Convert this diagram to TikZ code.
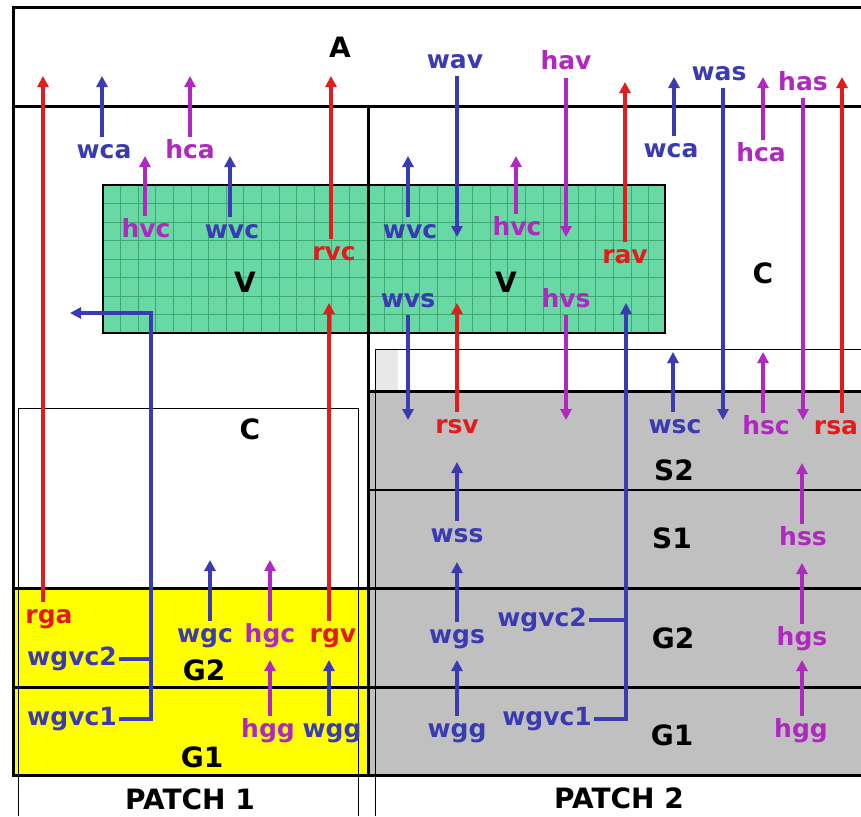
\documentclass[tikz,border=0pt]{standalone}
\usepackage{fontspec}
\setmainfont{DejaVu Sans}
\usetikzlibrary{arrows.meta}
\definecolor{cblue}{RGB}{58,58,178}
\definecolor{cpurp}{RGB}{176,40,192}
\definecolor{cred}{RGB}{226,28,28}
\definecolor{vgreen}{RGB}{104,216,164}
\definecolor{vgrid}{RGB}{62,168,112}
\definecolor{sgray}{RGB}{192,192,192}
\definecolor{pyellow}{RGB}{255,255,0}
\begin{document}
\begin{tikzpicture}[x=1pt,y=-1pt,
  lab/.style={font=\fontsize{25}{28}\selectfont\bfseries, inner sep=2pt, text height=19pt, text depth=6pt, anchor=base},
  big/.style={font=\fontsize{28}{32}\selectfont\bfseries, inner sep=0pt, anchor=base},
  lb/.style={lab,text=cblue}, lp/.style={lab,text=cpurp}, lr/.style={lab,text=cred},
  arr/.style={line width=4pt, -{Triangle[length=11pt,width=11pt]}},
  ab/.style={arr,draw=cblue}, ap/.style={arr,draw=cpurp}, ar/.style={arr,draw=cred},
  stub/.style={line width=4pt,draw=cblue},
  heavy/.style={line width=3pt},
  hair/.style={line width=0.9pt}]
\useasboundingbox (0,0) rectangle (861,816);
\clip (0,0) rectangle (861,816);
% fills
\fill[white] (0,0) rectangle (861,816);
\fill[pyellow] (13,588) rectangle (368,775);
\fill[sgray] (368,391) rectangle (861,775);
\fill[gray!18] (376,349) rectangle (398,391);
\fill[vgreen] (103,185) rectangle (665,333);
\foreach \k in {1,...,31} \draw[vgrid,line width=0.7pt] ({103+17.6*\k},185) -- ({103+17.6*\k},333);
\foreach \k in {1,...,7} \draw[vgrid,line width=0.7pt] (103,{185+18.5*\k}) -- (665,{185+18.5*\k});
\draw[line width=2pt] (103,185) rectangle (665,333);
% black lines
\draw[hair] (18,816) -- (18,408) -- (358,408) -- (358,816);
\draw[hair] (375,816) -- (375,349) -- (861,349);
\draw[heavy,line join=miter] (861,8) -- (13,8) -- (13,775) -- (861,775);
\draw[heavy] (13,106) -- (861,106);
\draw[heavy] (368,106) -- (368,775);
\draw[heavy] (368,391) -- (861,391);
\draw[line width=2.4pt] (368,490) -- (861,490);
\draw[heavy] (13,588) -- (861,588);
\draw[heavy] (13,687) -- (861,687);
% coordinates (arrow tips)
\coordinate (rgaT) at (43,76);
\coordinate (wcaT) at (102,76);
\coordinate (hcaT) at (190,76);
\coordinate (rvcT) at (331,76);
\coordinate (hvcT) at (145,156);
\coordinate (wvcT) at (230,156);
\coordinate (rgvT) at (329,303);
\coordinate (wgcT) at (210,560);
\coordinate (hgcT) at (270,560);
\coordinate (hggT) at (270,660);
\coordinate (wggT) at (329,660);
\coordinate (wgvcK) at (151,313);
\coordinate (wgvcT) at (70,313);
\coordinate (wavT) at (457,237);
\coordinate (havT) at (566,237);
\coordinate (ravT) at (625,82);
\coordinate (wcaTT) at (674,77);
\coordinate (wasT) at (723,420);
\coordinate (hcaTT) at (763,77);
\coordinate (hasT) at (803,420);
\coordinate (rsaT) at (842,77);
\coordinate (wvcTT) at (408,156);
\coordinate (hvcTT) at (516,156);
\coordinate (wvsT) at (408,420);
\coordinate (rsvT) at (457,303);
\coordinate (hvsT) at (566,420);
\coordinate (wgvcTT) at (626,303);
\coordinate (wscT) at (673,352);
\coordinate (hscT) at (763,352);
\coordinate (wssT) at (457,462);
\coordinate (wgsT) at (457,562);
\coordinate (wggTT) at (457,660);
\coordinate (hssT) at (802,463);
\coordinate (hgsT) at (802,563);
\coordinate (hggTT) at (802,660);
% big labels
\node[big] (A) at (340,57) {A};
\node[big] (V1) at (245,292) {V};
\node[big] (V2) at (506,292) {V};
\node[big] (C1) at (250,439) {C};
\node[big] (C2) at (763,283) {C};
\node[big] (G2a) at (204,680) {G2};
\node[big] (G1a) at (202,767) {G1};
\node[big] (S2) at (674,480) {S2};
\node[big] (S1) at (672,548) {S1};
\node[big] (G2b) at (673,648) {G2};
\node[big] (G1b) at (672,745) {G1};
\node[big] (P1) at (190,809) {PATCH 1};
\node[big] (P2) at (619,808) {PATCH 2};
% small labels, patch 1
\node[lr] (rgaL) at (49,623) {rga};
\node[lb] (wcaL) at (104,158) {wca};
\node[lp] (hcaL) at (190,158) {hca};
\node[lr] (rvcL) at (334,260) {rvc};
\node[lp] (hvcL) at (146,237) {hvc};
\node[lb] (wvcL) at (232,238) {wvc};
\node[lb] (wgvc2L) at (72,665) {wgvc2};
\node[lb] (wgvc1L) at (72,725) {wgvc1};
\node[lb] (wgcL) at (205,642) {wgc};
\node[lp] (hgcL) at (270,642) {hgc};
\node[lr] (rgvL) at (333,642) {rgv};
\node[lp] (hggL) at (268,737) {hgg};
\node[lb] (wggL) at (332,737) {wgg};
% small labels, patch 2
\node[lb] (wavL) at (455,68) {wav};
\node[lp] (havL) at (566,70) {hav};
\node[lr] (ravL) at (625,263) {rav};
\node[lb] (wcaLL) at (671,157) {wca};
\node[lb] (wasL) at (719,80) {was};
\node[lp] (hcaLL) at (761,161) {hca};
\node[lp] (hasL) at (803,90) {has};
\node[lb] (wvcLL) at (410,238) {wvc};
\node[lp] (hvcLL) at (517,235) {hvc};
\node[lb] (wvsL) at (408,307) {wvs};
\node[lp] (hvsL) at (566,307) {hvs};
\node[lr] (rsvL) at (457,433) {rsv};
\node[lb] (wscL) at (675,433) {wsc};
\node[lp] (hscL) at (766,434) {hsc};
\node[lr] (rsaL) at (836,434) {rsa};
\node[lb] (wssL) at (457,542) {wss};
\node[lp] (hssL) at (803,545) {hss};
\node[lb] (wgsL) at (457,643) {wgs};
\node[lb] (wgvc2R) at (542,626) {wgvc2};
\node[lp] (hgsL) at (802,645) {hgs};
\node[lb] (wggLL) at (457,737) {wgg};
\node[lb] (wgvc1R) at (547,725) {wgvc1};
\node[lp] (hggLL) at (801,737) {hgg};
% arrows, patch 1
\draw[ar] (rgaL.north -| rgaT) -- (rgaT);
\draw[ab] (wcaL.north -| wcaT) -- (wcaT);
\draw[ap] (hcaL.north -| hcaT) -- (hcaT);
\draw[ar] (rvcL.north -| rvcT) -- (rvcT);
\draw[ap] (hvcL.north -| hvcT) -- (hvcT);
\draw[ab] (wvcL.north -| wvcT) -- (wvcT);
\draw[ar] (rgvL.north -| rgvT) -- (rgvT);
\draw[ab] (wgcL.north -| wgcT) -- (wgcT);
\draw[ap] (hgcL.north -| hgcT) -- (hgcT);
\draw[ap] (hggL.north -| hggT) -- (hggT);
\draw[ab] (wggL.north -| wggT) -- (wggT);
\draw[stub] (wgvc2L.east) -- (wgvc2L.east -| wgvcK);
\draw[ab,line join=miter] (wgvc1L.east) -- (wgvc1L.east -| wgvcK) -- (wgvcK) -- (wgvcT);
% arrows, patch 2
\draw[ab] (wavL.south -| wavT) -- (wavT);
\draw[ap] (havL.south -| havT) -- (havT);
\draw[ar] (ravL.north -| ravT) -- (ravT);
\draw[ab] (wcaLL.north -| wcaTT) -- (wcaTT);
\draw[ab] (wasL.south -| wasT) -- (wasT);
\draw[ap] (hcaLL.north -| hcaTT) -- (hcaTT);
\draw[ap] (hasL.south -| hasT) -- (hasT);
\draw[ar] (rsaL.north -| rsaT) -- (rsaT);
\draw[ab] (wvcLL.north -| wvcTT) -- (wvcTT);
\draw[ap] (hvcLL.north -| hvcTT) -- (hvcTT);
\draw[ab] (wvsL.south -| wvsT) -- (wvsT);
\draw[ar] (rsvL.north -| rsvT) -- (rsvT);
\draw[ap] (hvsL.south -| hvsT) -- (hvsT);
\draw[ab] (wscL.north -| wscT) -- (wscT);
\draw[ap] (hscL.north -| hscT) -- (hscT);
\draw[ab] (wssL.north -| wssT) -- (wssT);
\draw[ab] (wgsL.north -| wgsT) -- (wgsT);
\draw[ab] (wggLL.north -| wggTT) -- (wggTT);
\draw[ap] (hssL.north -| hssT) -- (hssT);
\draw[ap] (hgsL.north -| hgsT) -- (hgsT);
\draw[ap] (hggLL.north -| hggTT) -- (hggTT);
\draw[stub] (wgvc2R.east) -- (wgvc2R.east -| wgvcTT);
\draw[ab,line join=miter] (wgvc1R.east) -- (wgvc1R.east -| wgvcTT) -- (wgvcTT);
\end{tikzpicture}
\end{document}
